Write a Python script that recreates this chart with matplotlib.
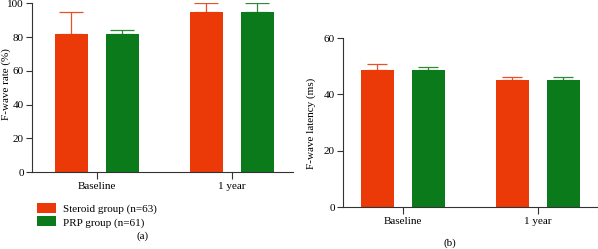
import matplotlib
matplotlib.use("Agg")
import matplotlib.pyplot as plt
import numpy as np

plt.rcParams['font.family'] = ['Liberation Serif', 'DejaVu Serif']

categories = ["Baseline", "1 year"]
groups = ["Steroid group (n=63)", "PRP group (n=61)"]
colors = ["#EB3A07", "#0B7A1B"]
err_colors = ["#E8502A", "#2E8A3A"]

rate_steroid = [82, 95]
rate_prp = [82, 95]
rate_err_steroid = [13, 5]
rate_err_prp = [2, 5]

lat_steroid = [48.7, 45.1]
lat_prp = [48.5, 45.1]
lat_err_steroid = [2.0, 1.1]
lat_err_prp = [1.1, 1.0]

FS = 8

fig = plt.figure(figsize=(5.98, 2.49), dpi=100)
axa = fig.add_axes([32/598, 1-172/249, (293-32)/598, (172-3.3)/249])
axb = fig.add_axes([343/598, 1-207/249, (597-343)/598, (207-38)/249])

x = np.arange(len(categories))
w = 0.244
off = 0.189

def draw(ax, s, p, es, ep, ylim, yticks, xlim, capsize):
    bars = []
    for vals, errs, dx, c, ec in [(s, es, -off, colors[0], err_colors[0]),
                                  (p, ep, off, colors[1], err_colors[1])]:
        b = ax.bar(x + dx, vals, width=w, color=c, zorder=2)
        bars.append(b)
        ax.errorbar(x + dx, vals, yerr=[np.zeros(len(vals)), errs], fmt='none',
                    ecolor=ec, elinewidth=0.9, capsize=capsize, capthick=0.9, zorder=1)
    ax.set_ylim(*ylim)
    ax.set_yticks(yticks)
    ax.set_xlim(*xlim)
    ax.set_xticks(x)
    ax.set_xticklabels(categories)
    ax.spines['top'].set_visible(False)
    ax.spines['right'].set_visible(False)
    for sp in ['left', 'bottom']:
        ax.spines[sp].set_linewidth(0.8)
        ax.spines[sp].set_color('#333333')
    ax.tick_params(axis='both', labelsize=FS, width=0.8, length=4, color='#333333', pad=2)
    ax.tick_params(axis='x', length=5)
    return bars

bars = draw(axa, rate_steroid, rate_prp, rate_err_steroid, rate_err_prp,
            (0, 100), [0, 20, 40, 60, 80, 100], (-0.481, 1.452), 8.5)
draw(axb, lat_steroid, lat_prp, lat_err_steroid, lat_err_prp,
     (0, 60), [0, 20, 40, 60], (-0.444, 1.44), 7)

fig.text(6.5/598, 1-84/249, "F-wave rate (%)", rotation=90, ha='center', va='center', fontsize=FS)
fig.text(311/598, 1-123/249, "F-wave latency (ms)", rotation=90, ha='center', va='center', fontsize=FS)

fig.legend([bars[0], bars[1]], groups, loc='upper left',
           bbox_to_anchor=(35/598, 1-201/249), frameon=False, fontsize=FS,
           handlelength=1.7, handleheight=1.0, handletextpad=0.6, labelspacing=0.2,
           borderaxespad=0, borderpad=0.2)

fig.text(143/598, 1-236/249, "(a)", ha='center', va='center', fontsize=FS)
fig.text(450/598, 1-243/249, "(b)", ha='center', va='center', fontsize=FS)

fig.savefig("out.png", dpi=100)
